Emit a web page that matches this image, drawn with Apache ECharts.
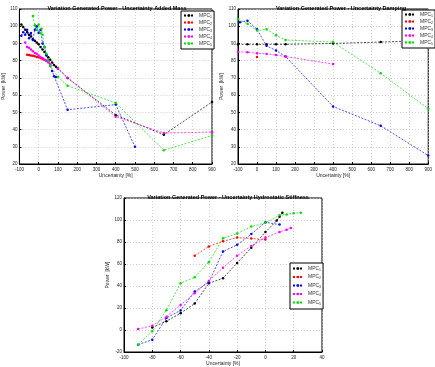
<!DOCTYPE html>
<html>
<head>
<meta charset="utf-8">
<script src="https://cdn.jsdelivr.net/npm/echarts@6/dist/echarts.min.js"></script>
<style>
  html, body { margin: 0; padding: 0; background: #fff; }
  #chart { width: 435px; height: 367px; }
</style>
</head>
<body>
<div id="chart"></div>
<script>
const names = ['MPC1', 'MPC2', 'MPC3', 'MPC4', 'MPC5']
const colors = ['#000000', '#ff0000', '#0000ff', '#ff00ff', '#00dd00']

// added mass
const massX1 = [-90, -80, -70, -60, -50, -40, -30, -20, -10, 0, 10, 20, 30, 40, 50, 60, 70, 80, 90, 100, 150, 400, 650, 900]
const massY1 = [101, 99.5, 98, 96.5, 95, 94, 92.5, 91.5, 90.5, 89.5, 88, 86.5, 85, 83.5, 82, 80.5, 79, 77.5, 76.5, 75.5, 70, 48.5, 37, 56]
const massX2 = [-60, -50, -40, -30, -20, -10, 0, 10, 20, 30, 40, 50]
const massY2 = [83.5, 83.3, 83, 82.8, 82.5, 82.2, 82, 81.5, 81, 80.5, 80, 79.5]
const massX3 = [-90, -80, -70, -60, -50, -40, -30, -20, -10, 0, 10, 20, 30, 40, 50, 60, 70, 80, 90, 150, 400, 500]
const massY3 = [94.5, 96.5, 95, 98, 93, 96, 92, 98, 100, 96, 98, 90, 88, 83, 80, 77, 74, 71, 70.5, 51.5, 54.5, 30]
const massX4 = [-70, -60, -50, -40, -30, -20, -10, 0, 10, 20, 30, 40, 50, 60, 100, 150, 400, 650, 900]
const massY4 = [90.5, 88, 87.5, 86.5, 85.5, 84.5, 84, 83, 82, 81.5, 80.5, 80, 79, 78, 75.5, 70, 47.5, 38, 38.5]
const massX5 = [-30, -20, -10, 0, 10, 15, 20, 30, 40, 50, 60, 100, 150, 400, 650, 900]
const massY5 = [106, 100.5, 98, 101, 96, 98.5, 95, 88, 84, 80, 77, 70.5, 65.5, 55.5, 28, 36.5]

// damping
const dampX1 = [-100, -50, 0, 50, 100, 150, 400, 650, 900]
const dampY1 = [89.5, 89.5, 89.5, 89.5, 89.5, 89.5, 90, 90.8, 91.7]
const dampX2 = [0]
const dampY2 = [82.2]
const dampX3 = [-90, -50, 0, 50, 100, 150, 400, 650, 900]
const dampY3 = [102.3, 103.2, 98.2, 88.6, 85.9, 82.4, 53.4, 42.2, 24.9]
const dampX4 = [-100, -50, 0, 50, 100, 150, 400]
const dampY4 = [85.2, 84.9, 84.3, 83.9, 83.3, 82.4, 78]
const dampX5 = [-100, -50, 0, 50, 100, 150, 400, 650, 900]
const dampY5 = [104, 101.5, 97.5, 98.2, 94.7, 92, 90.8, 72.7, 52.1]

// hydrostatic stiffness
const stiffX1 = [-80, -70, -60, -50, -40, -30, -20, -10, 0, 8, 10, 12]
const stiffY1 = [2.3, 8, 15.3, 24, 42.5, 47, 61, 74.7, 89, 99.5, 103, 106.5]
const stiffX2 = [-50, -40, -30, -20, -10, 0]
const stiffY2 = [67.6, 76, 80.6, 84, 83.2, 82.2]
const stiffX3 = [-90, -80, -70, -60, -50, -40, -30, -20, -10, 0, 10]
const stiffY3 = [-13.3, -8.8, 11, 17.8, 35.1, 43.5, 71.4, 77.4, 87.2, 98, 95.8]
const stiffX4 = [-90, -80, -70, -60, -50, -40, -30, -20, -10, 0, 10, 15, 18]
const stiffY4 = [0.8, 3.9, 12, 22.7, 33.3, 44.6, 56.6, 67.5, 76.4, 84, 89.2, 91.1, 92.8]
const stiffX5 = [-90, -80, -70, -60, -50, -40, -30, -20, -10, 0, 10, 15, 20, 25]
const stiffY5 = [-13.3, -1.1, 18, 42.5, 48, 61.7, 83.3, 87.7, 94, 97.4, 104.3, 105, 106.2, 106.7]

const massData = [[massX1, massY1], [massX2, massY2], [massX3, massY3], [massX4, massY4], [massX5, massY5]]
const dampData = [[dampX1, dampY1], [dampX2, dampY2], [dampX3, dampY3], [dampX4, dampY4], [dampX5, dampY5]]
const stiffData = [[stiffX1, stiffY1], [stiffX2, stiffY2], [stiffX3, stiffY3], [stiffX4, stiffY4], [stiffX5, stiffY5]]

const chart = echarts.init(document.getElementById('chart'), null, { renderer: 'canvas' })

const font = 'Liberation Sans'

function xAxis(idx, min, max, interval) {
  return {
    type: 'value', gridIndex: idx, min: min, max: max, interval: interval,
    name: 'Uncertainty [%]', nameLocation: 'middle', nameGap: 9,
    nameTextStyle: { fontSize: 5, color: '#222', fontFamily: font },
    axisLine: { show: true, onZero: false, lineStyle: { color: '#000', width: 1 } },
    axisTick: { show: true, inside: true, length: 2, lineStyle: { color: '#000' } },
    axisLabel: { fontSize: 4.5, color: '#222', margin: 3, fontFamily: font },
    splitLine: { show: true, lineStyle: { color: '#bbb', type: [1, 2], width: 0.7 } }
  }
}

function yAxis(idx, min, max, interval, gap) {
  return {
    type: 'value', gridIndex: idx, min: min, max: max, interval: interval,
    name: 'Power  [kW]', nameLocation: 'middle', nameGap: gap,
    nameTextStyle: { fontSize: 5, color: '#222', fontFamily: font },
    axisLine: { show: true, onZero: false, lineStyle: { color: '#000', width: 1 } },
    axisTick: { show: true, inside: true, length: 2, lineStyle: { color: '#000' } },
    axisLabel: { fontSize: 4.5, color: '#222', margin: 2, fontFamily: font },
    splitLine: { show: true, lineStyle: { color: '#bbb', type: [1, 2], width: 0.7 } }
  }
}

function legend(left, top, gap, pad) {
  return {
    orient: 'vertical', left: left, top: top, data: names,
    backgroundColor: '#fff', borderColor: '#000', borderWidth: 1,
    padding: pad, itemGap: gap, itemWidth: 10, itemHeight: 3,
    formatter: name => '{m|MPC}{s|' + name.slice(3) + '}',
    textStyle: {
      color: '#333', fontFamily: font,
      rich: { m: { fontSize: 5, fontFamily: font }, s: { fontSize: 3.5, fontFamily: font, padding: [3, 0, 0, 0] } }
    }
  }
}

const series = []
;[massData, dampData, stiffData].forEach((set, g) => {
  set.forEach((pair, i) => {
    series.push({
      name: names[i], type: 'line', xAxisIndex: g, yAxisIndex: g,
      data: pair[0].map((x, k) => [x, pair[1][k]]),
      symbol: 'circle', symbolSize: 2.5,
      itemStyle: { color: colors[i] },
      lineStyle: { color: colors[i], width: 0.7, type: [2, 1.5] },
      animation: false
    })
  })
})

chart.setOption({
  backgroundColor: '#fff',
  animation: false,
  title: [
    { text: 'Variation Generated Power - Uncertainty Added Mass', left: 112, top: 0, textAlign: 'center',
      textStyle: { fontSize: 5.5, fontWeight: 'bold', color: '#000', fontFamily: font } },
    { text: 'Variation Generated Power - Uncertainty Damping', left: 336, top: 0, textAlign: 'center',
      textStyle: { fontSize: 5.5, fontWeight: 'bold', color: '#000', fontFamily: font } },
    { text: 'Variation Generated Power - Uncertainty Hydrostatic Stiffness', left: 223, top: 189, textAlign: 'center',
      textStyle: { fontSize: 5.5, fontWeight: 'bold', color: '#000', fontFamily: font } }
  ],
  grid: [
    { left: 13, top: 9, width: 199, height: 155, show: true, borderColor: '#000', borderWidth: 1 },
    { left: 238, top: 9, width: 196, height: 155, show: true, borderColor: '#000', borderWidth: 1 },
    { left: 124, top: 198, width: 198, height: 157, show: true, borderColor: '#000', borderWidth: 1 }
  ],
  xAxis: [xAxis(0, -100, 900, 100), xAxis(1, -100, 900, 100), xAxis(2, -100, 40, 20)],
  yAxis: [yAxis(0, 20, 110, 10, 8), yAxis(1, 20, 110, 10, 8), yAxis(2, -20, 120, 20, 8)],
  legend: [legend(181, 11, 1, [2, 2]), legend(402, 10, 1, [2, 2]), legend(290, 263, 2.5, [3, 2])],
  series: series
})
</script>
</body>
</html>
